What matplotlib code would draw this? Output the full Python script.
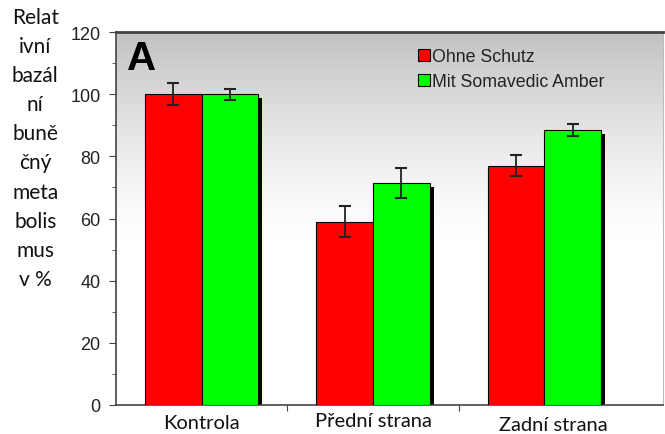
import numpy as np
import matplotlib
matplotlib.use("Agg")
import matplotlib.pyplot as plt
from matplotlib.ticker import MultipleLocator

# data
categories = ["Kontrola", "Přední strana", "Zadní strana"]
series = ["Ohne Schutz", "Mit Somavedic Amber"]
ohne = [100, 59, 77]
ohne_err = [3.5, 5.0, 3.3]
mit = [100, 71.5, 88.5]
mit_err = [1.8, 4.8, 2.0]
yticks = [0, 20, 40, 60, 80, 100, 120]
ylabel_lines = ["Relat", "ivní", "bazál", "ní", "buně", "čný", "meta", "bolis", "mus", "v %"]

RED = "#ff0000"
GREEN = "#00ff00"

fig = plt.figure(figsize=(6.65, 4.35), dpi=100)
ax = fig.add_axes([0.1744, 0.0667, 0.822, 0.8573])

x = np.arange(len(categories))
w = 0.33

# gradient background (gray at top -> white)
grad = np.linspace(0, 1, 256).reshape(-1, 1)
alpha = np.clip((grad - 0.45) / 0.55, 0, 1) ** 1.3
img = np.ones((256, 1, 4))
img[..., :3] = 1 - 0.24 * alpha[..., None]
ax.imshow(img, extent=[0, 1, 0, 1], transform=ax.transAxes, aspect="auto",
          origin="lower", zorder=0)

# shadows
dx = 0.024
ax.bar(x + w / 2 + dx, np.array(mit) - 1.3, width=w, color="black", zorder=2)
ax.bar(x - w / 2 + dx, np.array(ohne) - 1.3, width=w, color="black", zorder=2)

ax.bar(x - w / 2, ohne, width=w, color=RED, edgecolor="black", linewidth=0.8,
       zorder=3, label=series[0])
ax.bar(x + w / 2, mit, width=w, color=GREEN, edgecolor="black", linewidth=0.8,
       zorder=3, label=series[1])
ax.errorbar(x - w / 2, ohne, yerr=ohne_err, fmt="none", ecolor="#222222",
            elinewidth=1.3, capsize=4, capthick=1.5, zorder=4)
ax.errorbar(x + w / 2, mit, yerr=mit_err, fmt="none", ecolor="#222222",
            elinewidth=1.3, capsize=4, capthick=1.5, zorder=4)

ax.set_xlim(-0.5, 2.69)
ax.set_ylim(0, 120)
ax.set_yticks(yticks)
ax.yaxis.set_minor_locator(MultipleLocator(10))
ax.tick_params(axis="y", which="both", direction="out", color="#444444",
               labelsize=13, pad=6)
ax.tick_params(axis="y", which="major", length=5)
ax.tick_params(axis="y", which="minor", length=3)
for lab in ax.get_yticklabels():
    lab.set_fontfamily("Liberation Sans")
    lab.set_color("#222222")

ax.set_xticks([0.5, 1.5])
ax.set_xticklabels([])
ax.tick_params(axis="x", direction="out", length=4, color="#444444")

for side in ["left", "bottom", "top"]:
    ax.spines[side].set_color("#444444")
ax.spines["left"].set_linewidth(1.2)
ax.spines["bottom"].set_linewidth(1.2)
ax.spines["top"].set_linewidth(2)
ax.spines["right"].set_color("#bbbbbb")
ax.spines["right"].set_linewidth(0.8)

# category labels
offs = [-0.046, -0.041, -0.051]
xpos = [0.0, 1.0, 2.05]
for xi, lab, dy in zip(xpos, categories, offs):
    ax.text(xi, dy, lab, transform=ax.get_xaxis_transform(), ha="center",
            va="center", fontsize=14.5, family="Lato", color="#111111")

# panel letter
ax.text(0.02, 0.93, "A", transform=ax.transAxes, fontsize=29,
        fontweight="bold", family="Liberation Sans", va="center", ha="left")

# legend
leg = ax.legend(loc="upper left", bbox_to_anchor=(0.533, 0.985), frameon=False,
                prop={"family": "Liberation Sans", "size": 12.8},
                handlelength=0.65, handleheight=0.65, handletextpad=0.15,
                labelspacing=0.45, borderaxespad=0.2)
for t in leg.get_texts():
    t.set_color("#222222")

# stacked y label
fig.text(0.053, 0.982, "\n".join(ylabel_lines), ha="center", va="top",
         fontsize=15, family="Lato", linespacing=1.57, color="#111111")

fig.savefig("out.png", dpi=100)
